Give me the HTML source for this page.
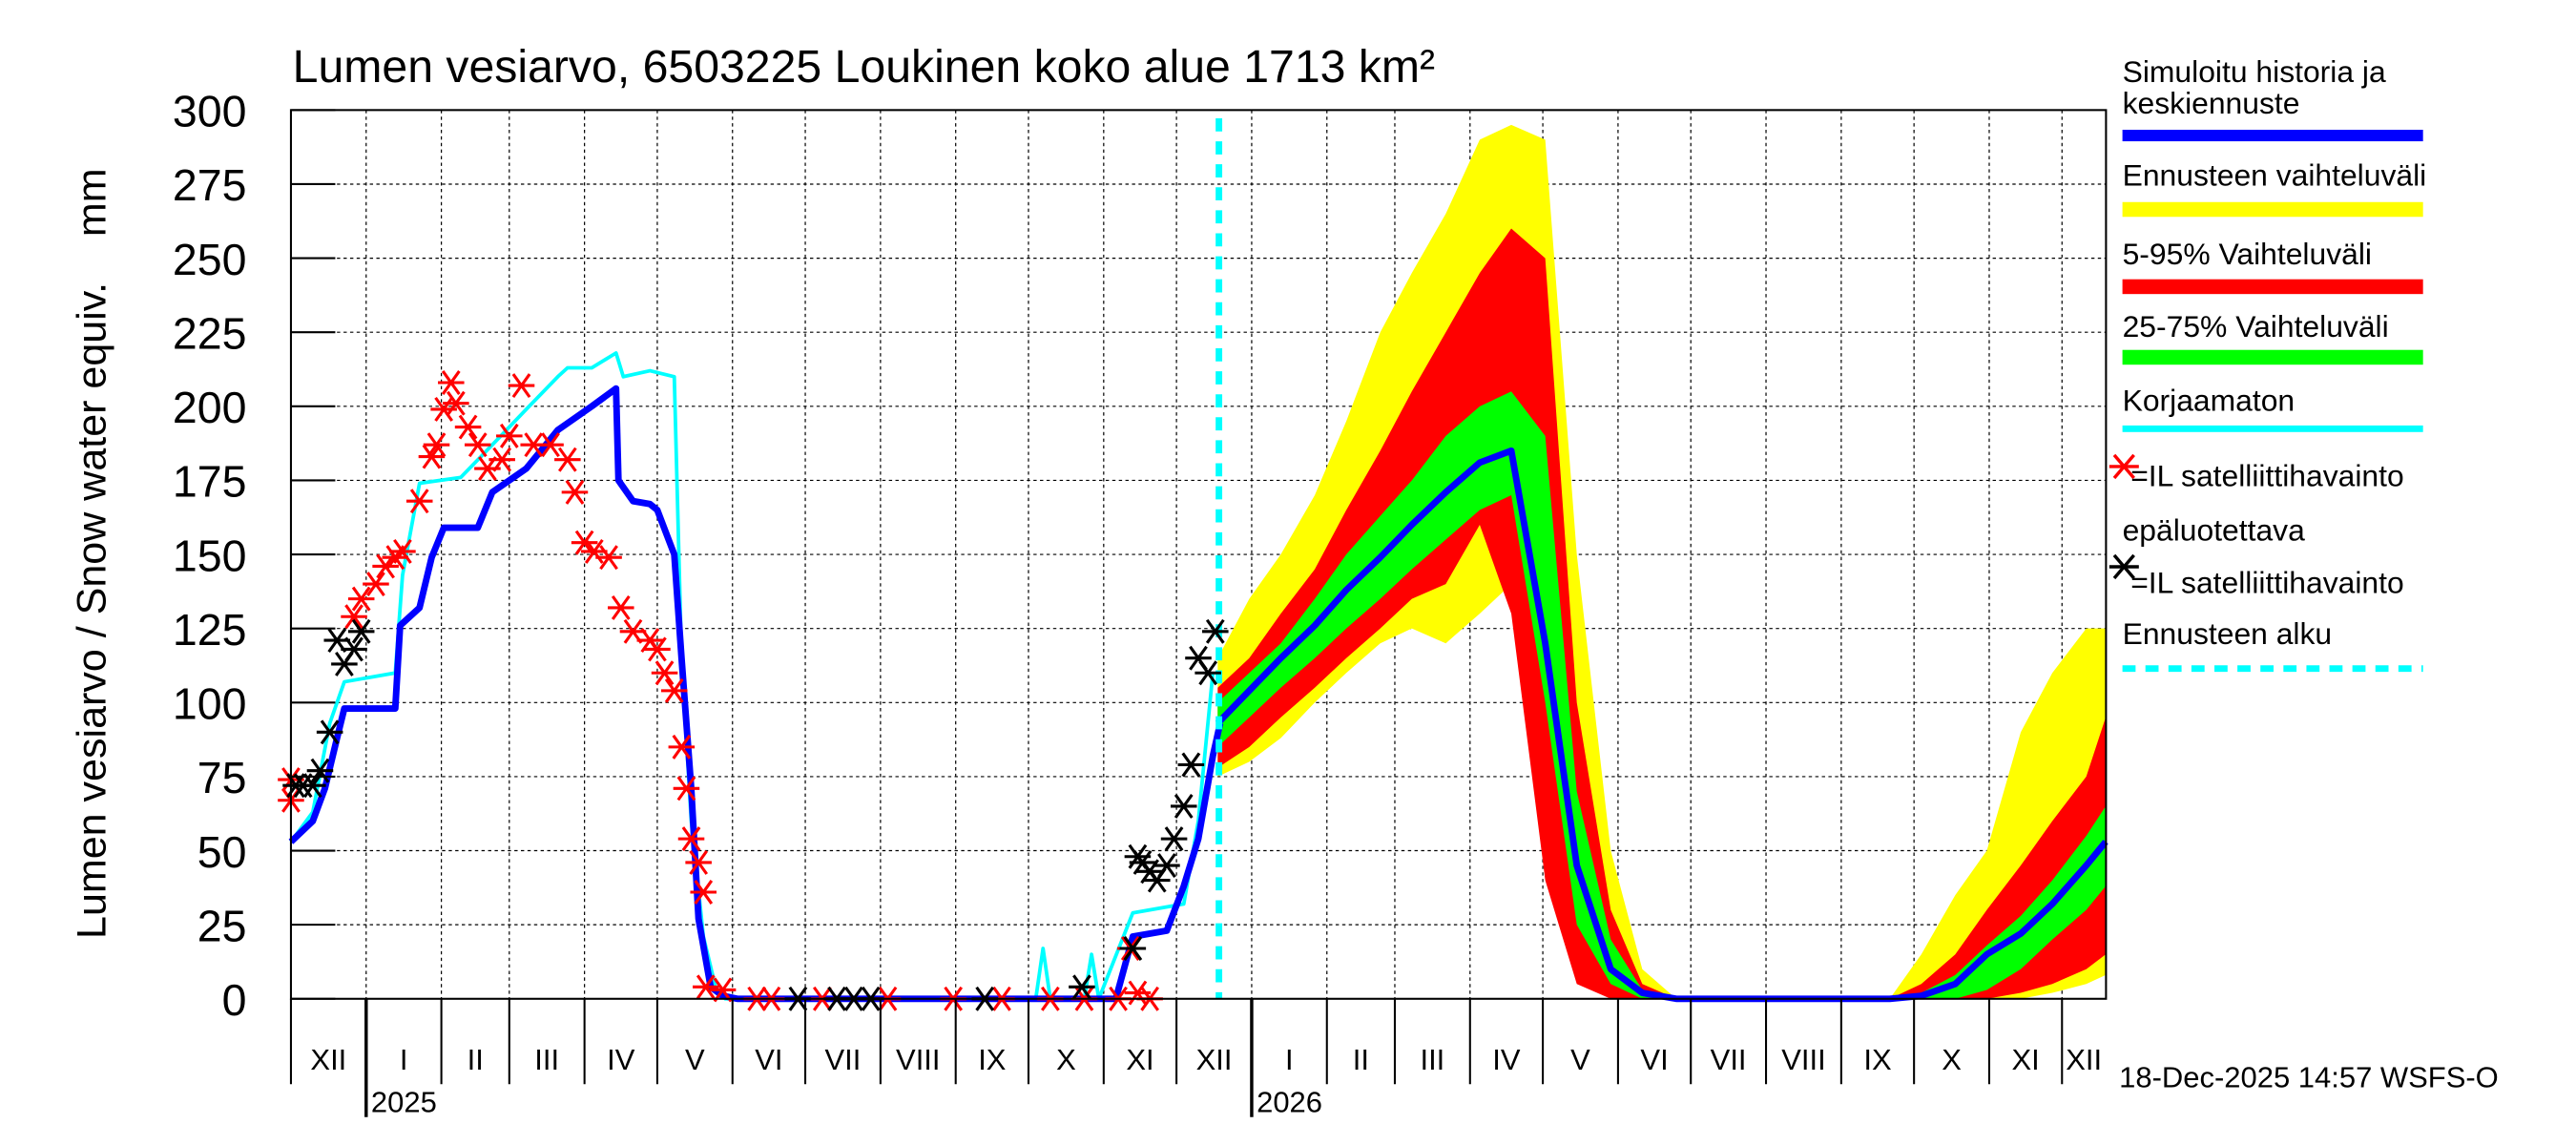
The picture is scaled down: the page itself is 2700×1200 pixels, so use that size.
<!DOCTYPE html>
<html><head><meta charset="utf-8"><style>
html,body{margin:0;padding:0;background:#fff;}
svg{display:block;font-family:"Liberation Sans",sans-serif;}
</style></head><body>
<svg id="chart" width="2700" height="1200" viewBox="0 0 1568 697" xmlns="http://www.w3.org/2000/svg">
<rect x="0" y="0" width="1568" height="697" fill="#fff"/>
<g id="grid"></g>
<g id="bands"></g>
<g id="lines"></g>
<g id="obs"></g>
<g id="axes"></g>
<text x="178" y="50" font-size="28">Lumen vesiarvo, 6503225 Loukinen koko alue 1713 km²</text>
<text transform="translate(64,337) rotate(-90)" text-anchor="middle" font-size="25" style="white-space:pre">Lumen vesiarvo / Snow water equiv.    mm</text>
<text x="1290" y="662" font-size="18">18-Dec-2025 14:57 WSFS-O</text>
<g id="legend" font-size="18.5">
<text x="1292" y="50">Simuloitu historia ja</text>
<text x="1292" y="69">keskiennuste</text>
<rect x="1292" y="79" width="183" height="7" fill="#0000ff"/>
<text x="1292" y="113">Ennusteen vaihteluväli</text>
<rect x="1292" y="123" width="183" height="9" fill="#ffff00"/>
<text x="1292" y="161">5-95% Vaihteluväli</text>
<rect x="1292" y="170" width="183" height="9" fill="#ff0000"/>
<text x="1292" y="205">25-75% Vaihteluväli</text>
<rect x="1292" y="213" width="183" height="9" fill="#00ff00"/>
<text x="1292" y="250">Korjaamaton</text>
<rect x="1292" y="259" width="183" height="4" fill="#00ffff"/>
<g stroke="#ff0000" stroke-width="2">
<line x1="1284" y1="284" x2="1302" y2="284"/><line x1="1287" y1="277" x2="1299" y2="291"/><line x1="1287" y1="291" x2="1299" y2="277"/></g>
<text x="1297" y="296">=IL satelliittihavainto</text>
<text x="1292" y="329">epäluotettava</text>
<g stroke="#000" stroke-width="2">
<line x1="1284" y1="345" x2="1302" y2="345"/><line x1="1287" y1="338" x2="1299" y2="352"/><line x1="1287" y1="352" x2="1299" y2="338"/></g>
<text x="1297" y="361">=IL satelliittihavainto</text>
<text x="1292" y="392">Ennusteen alku</text>
<line x1="1292" y1="407" x2="1475" y2="407" stroke="#00ffff" stroke-width="4" stroke-dasharray="8,6"/>
</g>
</svg>
<script>
const yTicks=[0,25,50,75,100,125,150,175,200,225,250,275,300];
const histDays=[0,9,14,19,22,43,45,53,58,63,77,83,97,110,124,134,135,141,148,151,158,161,165,168,173,178,184,340,347,361,368,374,380,383];
const histVals=[53,60,71,88,98,98,126,132,149,159,159,171,179,192,200,206,175,168,167,165,150,115,71,27,4,1,0,0,21,23,38,54,82,93];
const uncDays=[0,9,16,22,43,46,53,70,83,97,110,114,124,134,137,148,158,161,165,170,175,179,307,310,313,327,330,333,347,368,374,380];
const uncVals=[53,63,93,107,110,143,174,176,187,199,210,213,213,218,210,212,210,115,60,21,4,0,0,17,0,0,15,0,29,32,60,110];
const fcDays=[382,395,408,422,435,449,462,476,490,503,517,530,544,557,571,659,672,686,699,713,726,740,748];
const fcMedian=[93,104,115,126,138,149,160,171,181,185,120,45,10,2,0,0,1,5,15,22,32,45,53];
const yelHi=[115,135,150,170,195,225,245,265,290,295,290,150,50,10,0,0,15,35,50,90,110,125,125];
const yelLo=[75,80,88,100,110,120,125,120,130,140,70,15,2,0,0,0,0,0,0,0,2,5,8];
const redHi=[105,115,130,145,165,185,205,225,245,260,250,100,30,5,0,0,5,15,30,45,60,75,95];
const redLo=[78,85,95,105,115,125,135,140,160,130,40,5,0,0,0,0,0,0,0,2,5,10,15];
const grnHi=[100,110,120,135,150,163,175,190,200,205,190,70,20,3,0,0,2,8,18,28,40,55,65];
const grnLo=[85,95,105,115,125,135,145,155,165,170,100,25,5,0,0,0,0,0,3,10,20,30,38];
const redObsDays=[0,0,26,29,35,39,43,46,53,58,60,63,66,68,73,77,81,87,90,95,100,107,114,117,121,125,131,136,141,148,151,154,158,161,163,165,168,170,171,178,192,198,219,246,273,293,313,327,341,346,349,354];
const redObsVals=[74,67,129,135,140,146,149,151,168,183,187,199,208,201,193,187,179,182,190,207,187,187,182,171,154,151,149,132,124,121,118,110,104,85,71,54,46,36,4,3,0,0,0,0,0,0,0,0,0,17,2,0];
const blkObsDays=[2,5,9,12,16,19,22,26,29,209,225,232,239,286,326,347,349,351,354,357,361,364,368,371,374,378,381];
const blkObsVals=[72,72,72,77,90,121,113,118,124,0,0,0,0,0,4,17,48,46,43,40,45,54,65,79,115,110,124];
const forecastStartDay=382.5;
const months=["XII","I","II","III","IV","V","VI","VII","VIII","IX","X","XI","XII","I","II","III","IV","V","VI","VII","VIII","IX","X","XI","XII"];

const NS="http://www.w3.org/2000/svg";
const X0=177,X1=1282,Y0=608,Y1=67,PPD=1.477;
const xs=d=>X0+d*PPD;
const ys=v=>Y0-(v/300)*(Y0-Y1);
function mk(tag,attrs,parent){const e=document.createElementNS(NS,tag);for(const k in attrs)e.setAttribute(k,attrs[k]);parent.appendChild(e);return e;}
const grid=document.getElementById('grid'),axes=document.getElementById('axes'),bands=document.getElementById('bands'),lines=document.getElementById('lines'),obs=document.getElementById('obs');

const start=new Date(Date.UTC(2024,11,1));
const bounds=[];
for(let i=0;i<=25;i++){const d=new Date(Date.UTC(2024,11+i,1));bounds.push((d-start)/86400000);}
yTicks.forEach(v=>{
  if(v>0&&v<300){const l=mk('line',{x1:X0,x2:X1,y1:ys(v),y2:ys(v),stroke:'#000','stroke-width':0.7,'stroke-dasharray':'2,2'},grid);
  }
  const t=mk('text',{x:150,y:ys(v)+10,'text-anchor':'end','font-size':27},axes);t.textContent=v;
  
  const tk=mk('line',{x1:X0,x2:X0+27,y1:ys(v),y2:ys(v),stroke:'#000','stroke-width':1.2},axes);
  
});
for(let i=0;i<bounds.length;i++){
  const b=bounds[i];const x=xs(b);
  if(x>X0&&x<X1){const g=mk('line',{x1:x,x2:x,y1:Y1,y2:Y0,stroke:'#000','stroke-width':0.7,'stroke-dasharray':'2,2'},grid);
  }
  const yr=(i===1||i===13);
  if(x>=X0&&x<=X1){const t=mk('line',{x1:x,x2:x,y1:Y0,y2:yr?680:660,stroke:'#000','stroke-width':yr?2:1.2},axes);
  }
  if(i<months.length){const mid=xs((b+Math.min(bounds[i+1],748))/2);
    const lb=mk('text',{x:mid,y:651,'text-anchor':'middle','font-size':18},axes);lb.textContent=months[i];
    }
}
[[1,'2025'],[13,'2026']].forEach(([i,s])=>{const t=mk('text',{x:xs(bounds[i])+3,y:677,'font-size':18},axes);t.textContent=s;
});

function band(hi,lo,color,name){
  let d='M'+fcDays.map((x,i)=>xs(x)+','+ys(hi[i])).join('L');
  for(let i=fcDays.length-1;i>=0;i--)d+='L'+xs(fcDays[i])+','+ys(lo[i]);
  const p=mk('path',{d:d+'Z',fill:color},bands);
  
}
band(yelHi,yelLo,'#ffff00','forecast-range-band');
band(redHi,redLo,'#ff0000','band-5-95');
band(grnHi,grnLo,'#00ff00','band-25-75');

function line(days,vals,color,w,name){
  const p=mk('polyline',{points:days.map((d,i)=>xs(d)+','+ys(vals[i])).join(' '),fill:'none',stroke:color,'stroke-width':w,'stroke-linejoin':'round'},lines);
  
}
line(uncDays,uncVals,'#00ffff',2.2,'uncorrected-line');
line(histDays,histVals,'#0000ff',4,'simulated-history-line');
line(fcDays,fcMedian,'#0000ff',4,'forecast-median-line');
const fl=mk('line',{x1:xs(forecastStartDay),x2:xs(forecastStartDay),y1:Y1+5,y2:Y0,stroke:'#00ffff','stroke-width':4,'stroke-dasharray':'8,6'},lines);


function star(d,v,color,name){
  const cx=xs(d),cy=ys(v);
  const g=mk('g',{stroke:color,'stroke-width':1.8},obs);
  
  
  mk('line',{x1:cx-8,y1:cy,x2:cx+8,y2:cy},g);
  mk('line',{x1:cx-5,y1:cy-7,x2:cx+5,y2:cy+7},g);
  mk('line',{x1:cx-5,y1:cy+7,x2:cx+5,y2:cy-7},g);
}
redObsDays.forEach((d,i)=>star(d,redObsVals[i],'#ff0000','unreliable-observation'));
blkObsDays.forEach((d,i)=>star(d,blkObsVals[i],'#000','satellite-observation'));

const fr=mk('rect',{x:X0,y:Y1,width:X1-X0,height:Y0-Y1,fill:'none',stroke:'#000','stroke-width':1.2},axes);

</script>
</body></html>
